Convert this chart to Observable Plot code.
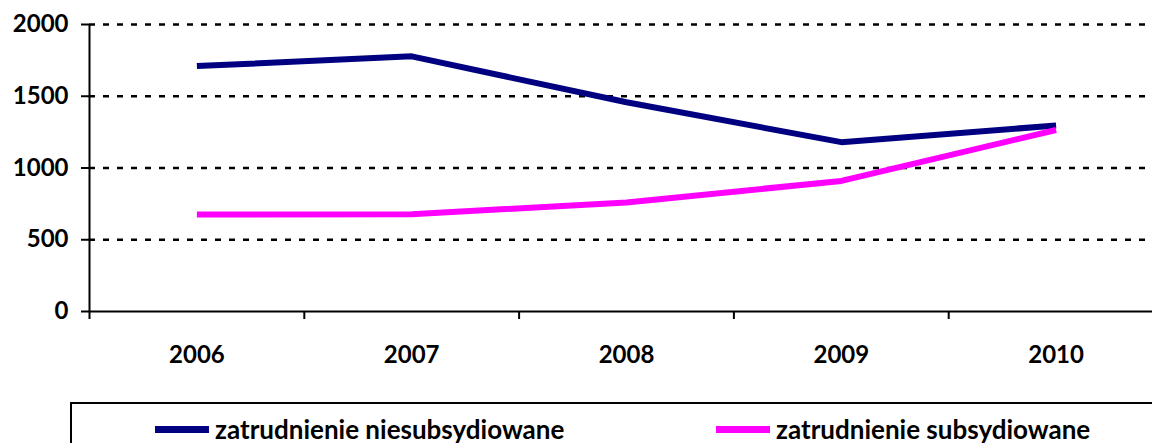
<!DOCTYPE html>
<html>
<head>
<meta charset="utf-8">
<script src="https://cdn.jsdelivr.net/npm/d3@7"></script>
<script src="https://cdn.jsdelivr.net/npm/@observablehq/plot@0.6"></script>
<style>
  html, body { margin: 0; padding: 0; background: #fff; }
  body { width: 1152px; height: 443px; overflow: hidden; position: relative; font-family: Lato, "Open Sans", sans-serif; }
  #chart svg { overflow: visible; display: block; max-width: none !important; }
  #legend { position: absolute; left: 70px; top: 402px; width: 1200px; height: 70px; border: 2px solid #000; box-sizing: border-box; background: #fff; }
  .entry { position: absolute; top: 9px; display: flex; align-items: center; font-weight: bold; font-size: 26px; color: #000; white-space: nowrap; }
  .swatch { display: inline-block; width: 54px; height: 7px; margin-right: 6px; }
</style>
</head>
<body>
<div id="chart"></div>
<div id="legend"></div>
<script>
const years = ["2006", "2007", "2008", "2009", "2010"];
const niesubsydiowane = [1710, 1778, 1458, 1180, 1296];
const subsydiowane = [676, 678, 760, 910, 1265];
const seriesNames = ["zatrudnienie niesubsydiowane", "zatrudnienie subsydiowane"];
const seriesColors = ["#000080", "#FF00FF"];
const yTicks = [0, 500, 1000, 1500, 2000];
const gridValues = [500, 1000, 1500, 2000];

const rows = [];
[niesubsydiowane, subsydiowane].forEach((vals, s) => {
  vals.forEach((v, i) => rows.push({series: seriesNames[s], idx: i + 0.5, value: v}));
});

const chart = Plot.plot({
  width: 1180,
  height: 380,
  marginLeft: 89,
  marginRight: 17,
  marginTop: 24,
  marginBottom: 69,
  style: {fontFamily: "Lato, 'Open Sans', sans-serif", fontSize: "24px", fontWeight: "bold", color: "#000", background: "transparent", maxWidth: "none"},
  x: {domain: [0, years.length], axis: null, label: null},
  y: {domain: [0, 2000], axis: null, label: null},
  color: {domain: seriesNames, range: seriesColors},
  marks: [
    Plot.ruleY(gridValues, {x1: 0, x2: years.length, stroke: "#000", strokeWidth: 2.5, strokeDasharray: "6,8", strokeDashoffset: -14}),
    Plot.ruleX([0], {y1: 0, y2: 2000, stroke: "#000", strokeWidth: 2}),
    Plot.ruleY([0], {x1: 0, x2: years.length, stroke: "#000", strokeWidth: 2}),
    Plot.axisY({ticks: yTicks, tickSize: 8, tickPadding: 13, strokeWidth: 2, tickFormat: d => String(d), fontSize: 24, fontWeight: "bold", label: null}),
    Plot.axisX({ticks: d3.range(years.length + 1), tickSize: 8, strokeWidth: 2, tickFormat: () => "", label: null}),
    Plot.axisX({ticks: years.map((_, i) => i + 0.5), tickSize: 0, tickPadding: 34, tickFormat: d => years[Math.floor(d)], fontSize: 24, fontWeight: "bold", label: null}),
    Plot.line(rows, {x: "idx", y: "value", z: "series", stroke: "series", strokeWidth: 6, strokeLinejoin: "miter", strokeLinecap: "butt"})
  ]
});
chart.style.maxWidth = "none";
document.getElementById("chart").appendChild(chart);

const legend = document.getElementById("legend");
const entryLeft = [83, 644];
seriesNames.forEach((name, i) => {
  const e = document.createElement("div");
  e.className = "entry";
  e.style.left = entryLeft[i] + "px";
  const sw = document.createElement("span");
  sw.className = "swatch";
  sw.style.background = seriesColors[i];
  const t = document.createElement("span");
  t.textContent = name;
  e.appendChild(sw);
  e.appendChild(t);
  legend.appendChild(e);
});
</script>
</body>
</html>
